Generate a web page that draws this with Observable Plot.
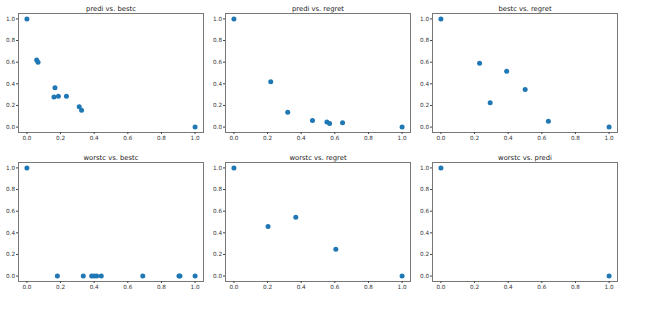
<!DOCTYPE html>
<html>
<head>
<meta charset="utf-8">
<script src="https://cdn.jsdelivr.net/npm/d3@7"></script>
<script src="https://cdn.jsdelivr.net/npm/@observablehq/plot@0.6"></script>
<style>
  html, body { margin: 0; padding: 0; background: #fff; }
  #chart { position: relative; width: 667px; height: 311px; overflow: hidden; background: #fff; }
  #chart svg { position: absolute; background: transparent; }
</style>
</head>
<body>
<div id="chart"></div>
<script>
// ---- data ----
const tickValues = [0, 0.2, 0.4, 0.6, 0.8, 1.0];

const titles = ["predi vs. bestc", "predi vs. regret", "bestc vs. regret",
                "worstc vs. bestc", "worstc vs. regret", "worstc vs. predi"];

const prediBestcX = [0, 0.058, 0.066, 0.167, 0.161, 0.187, 0.235, 0.311, 0.325, 1.0];
const prediBestcY = [1.0, 0.62, 0.60, 0.363, 0.278, 0.284, 0.284, 0.187, 0.156, 0.0];

const prediRegretX = [0, 0.219, 0.32, 0.467, 0.553, 0.569, 0.646, 1.0];
const prediRegretY = [1.0, 0.419, 0.137, 0.062, 0.047, 0.034, 0.041, 0.0];

const bestcRegretX = [0, 0.23, 0.293, 0.391, 0.501, 0.639, 1.0];
const bestcRegretY = [1.0, 0.59, 0.225, 0.516, 0.347, 0.053, 0.0];

const worstcBestcX = [0, 0.181, 0.335, 0.385, 0.40, 0.415, 0.442, 0.689, 0.904, 0.91, 1.0];
const worstcBestcY = [1.0, 0, 0, 0, 0, 0, 0, 0, 0, 0, 0];

const worstcRegretX = [0, 0.203, 0.368, 0.606, 1.0];
const worstcRegretY = [1.0, 0.459, 0.544, 0.247, 0.0];

const worstcPrediX = [0, 1.0];
const worstcPrediY = [1.0, 0.0];

// ---- layout ----
const colLefts = [18, 225, 432];
const rowTops = [13, 162];
const W = 185, H = 119;
const ML = 22, MR = 4, MT = 13, MB = 14;

const series = [
  [prediBestcX, prediBestcY],
  [prediRegretX, prediRegretY],
  [bestcRegretX, bestcRegretY],
  [worstcBestcX, worstcBestcY],
  [worstcRegretX, worstcRegretY],
  [worstcPrediX, worstcPrediY]
];

const fmt = d3.format(".1f");
const container = document.getElementById("chart");

series.forEach(([xs, ys], i) => {
  const data = xs.map((x, j) => ({x, y: ys[j]}));
  const col = i % 3, row = Math.floor(i / 3);
  const svg = Plot.plot({
    width: ML + W + MR,
    height: MT + H + MB,
    marginLeft: ML, marginRight: MR, marginTop: MT, marginBottom: MB,
    style: {fontFamily: "DejaVu Sans, sans-serif", fontSize: "5.7px", color: "#333", background: "transparent"},
    x: {domain: [-0.05, 1.05], label: null},
    y: {domain: [-0.05, 1.05], label: null},
    marks: [
      Plot.frame({stroke: "#777", strokeWidth: 1}),
      Plot.axisX({ticks: tickValues, tickFormat: fmt, tickSize: 2, tickPadding: 1.5, label: null, stroke: "#444", fill: "#333"}),
      Plot.axisY({ticks: tickValues, tickFormat: fmt, tickSize: 2, tickPadding: 1.5, label: null, stroke: "#444", fill: "#333"}),
      Plot.dot(data, {x: "x", y: "y", r: 2.5, fill: "#1f77b4"}),
      Plot.text([titles[i]], {frameAnchor: "top", lineAnchor: "bottom", dy: -2.5, fontSize: 6.8, fill: "#222"})
    ]
  });
  svg.style.left = (colLefts[col] - ML) + "px";
  svg.style.top = (rowTops[row] - MT) + "px";
  container.appendChild(svg);
});
</script>
</body>
</html>
